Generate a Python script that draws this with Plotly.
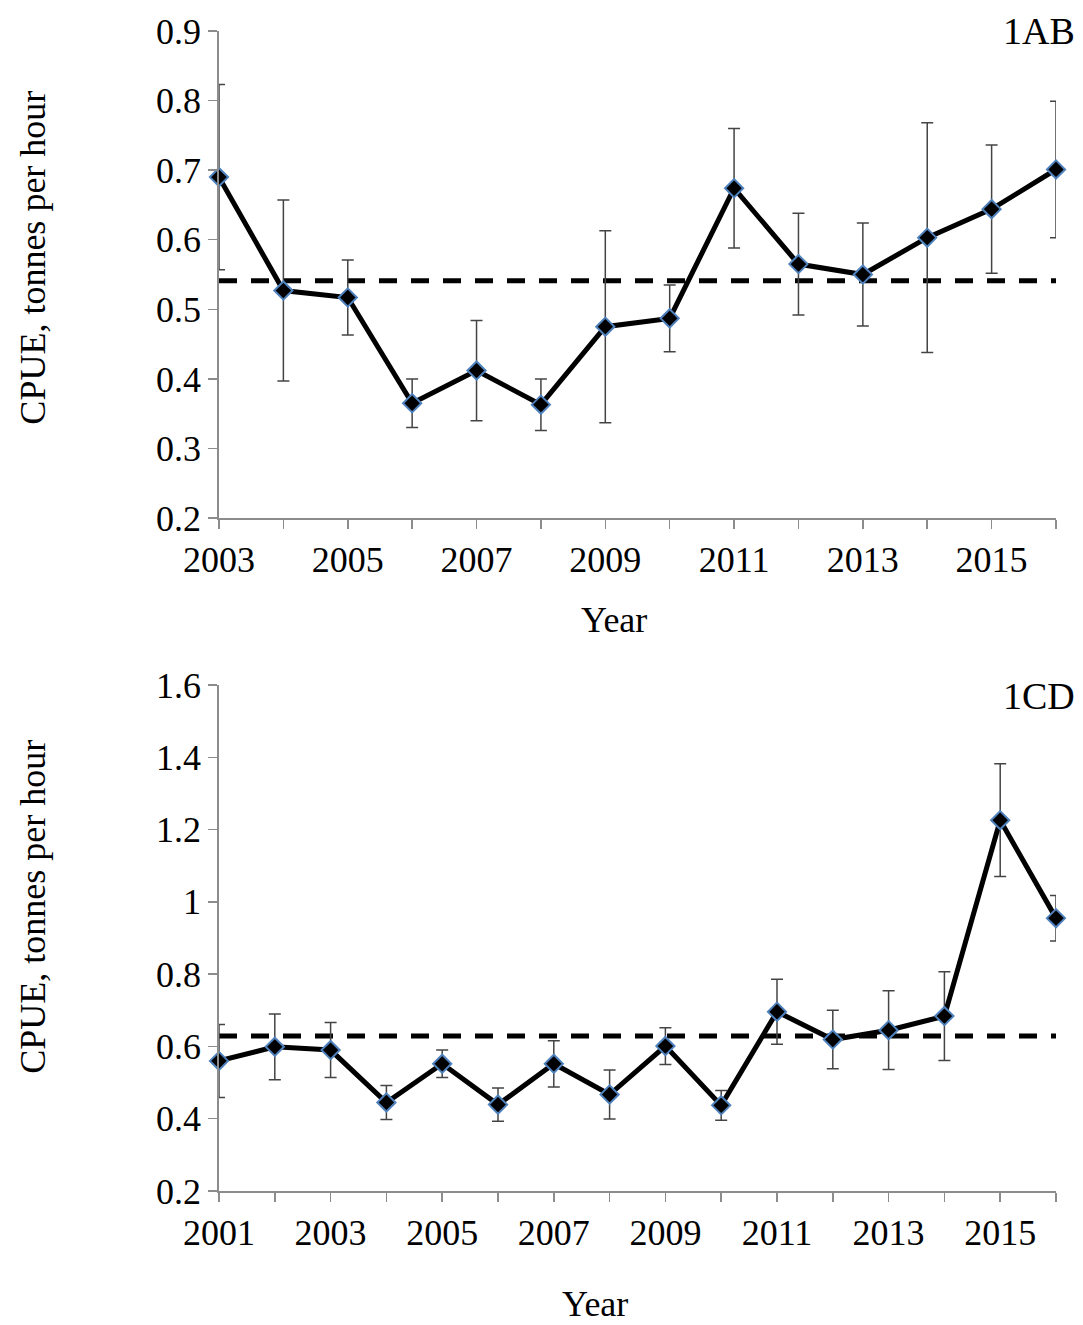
import plotly.graph_objects as go

# ---- Data: 1AB ----
years_1ab = list(range(2003, 2017))
cpue_1ab = [0.690, 0.527, 0.517, 0.365, 0.412, 0.363, 0.475, 0.487, 0.674, 0.565, 0.550, 0.603, 0.644, 0.701]
err_1ab = [0.133, 0.130, 0.054, 0.035, 0.072, 0.037, 0.138, 0.048, 0.086, 0.073, 0.074, 0.165, 0.092, 0.098]
mean_1ab = 0.541

# ---- Data: 1CD ----
years_1cd = list(range(2001, 2017))
cpue_1cd = [0.560, 0.599, 0.590, 0.445, 0.552, 0.439, 0.552, 0.467, 0.601, 0.437, 0.696, 0.619, 0.645, 0.684, 1.226, 0.955]
err_1cd = [0.101, 0.091, 0.076, 0.047, 0.038, 0.046, 0.064, 0.068, 0.051, 0.041, 0.090, 0.081, 0.109, 0.123, 0.156, 0.063]
mean_1cd = 0.629

FONT = "Liberation Serif, Times New Roman, serif"
W, H = 1083, 1325
ML, MR, MT, MB = 219, 27, 24, 134
PH = H - MT - MB
PW = W - ML - MR


def py(px):
    return (H - MB - px) / PH


def pxx(px):
    return (px - ML) / PW


fig = go.Figure()


def add_panel(years, vals, errs, mean, xa, ya):
    fig.add_trace(go.Scatter(
        x=[years[0], years[-1]], y=[mean, mean], mode="lines",
        line=dict(color="black", width=5, dash="18px,14px"),
        xaxis=xa, yaxis=ya, hoverinfo="skip", showlegend=False,
        cliponaxis=False,
    ))
    fig.add_trace(go.Scatter(
        x=years, y=vals, mode="lines+markers",
        line=dict(color="black", width=5),
        marker=dict(symbol="diamond", size=14, color="black",
                    line=dict(color="#4f81bd", width=2)),
        error_y=dict(type="data", array=errs, visible=True,
                     color="#444444", thickness=1.5, width=6),
        xaxis=xa, yaxis=ya, showlegend=False, cliponaxis=False,
    ))


add_panel(years_1ab, cpue_1ab, err_1ab, mean_1ab, "x", "y")
add_panel(years_1cd, cpue_1cd, err_1cd, mean_1cd, "x2", "y2")

axis_common = dict(
    showline=True, linecolor="#8c8c8c", linewidth=1.8,
    ticks="outside", ticklen=9, tickwidth=1.5, tickcolor="#8c8c8c",
    showgrid=False, zeroline=False,
    tickfont=dict(family=FONT, size=36, color="black"),
)


def xticks(years):
    return dict(tickmode="array", tickvals=years,
                ticktext=[str(y) if (y % 2 == 1) else "" for y in years])


fig.update_layout(
    width=W, height=H,
    margin=dict(l=ML, r=MR, t=MT, b=MB),
    paper_bgcolor="white", plot_bgcolor="white",
    font=dict(family=FONT, color="black"),
    xaxis=dict(domain=[0, 1], range=[years_1ab[0], years_1ab[-1]], anchor="y",
               **xticks(years_1ab), **axis_common),
    yaxis=dict(domain=[py(514), 1], range=[0.2, 0.9], dtick=0.1, tick0=0.2,
               anchor="x", **axis_common),
    xaxis2=dict(domain=[0, 1], range=[years_1cd[0], years_1cd[-1]], anchor="y2",
                **xticks(years_1cd), **axis_common),
    yaxis2=dict(domain=[0, py(682)], range=[0.2, 1.6], dtick=0.2, tick0=0.2,
                anchor="x2", **axis_common),
)

annots = [
    dict(text="Year", x=pxx(614), y=py(617)),
    dict(text="Year", x=pxx(595), y=py(1305)),
    dict(text="CPUE, tonnes per hour", x=pxx(33), y=py(252), textangle=-90),
    dict(text="CPUE, tonnes per hour", x=pxx(33), y=py(905), textangle=-90),
]
for a in annots:
    fig.add_annotation(xref="paper", yref="paper", showarrow=False,
                       xanchor="center", yanchor="middle",
                       font=dict(family=FONT, size=36, color="black"), **a)

fig.add_annotation(text="1AB", xref="paper", yref="paper", x=pxx(1077), y=py(24),
                   xanchor="right", yanchor="middle", showarrow=False,
                   font=dict(family=FONT, size=38, color="black"))
fig.add_annotation(text="1CD", xref="paper", yref="paper", x=pxx(1077), y=py(693),
                   xanchor="right", yanchor="middle", showarrow=False,
                   font=dict(family=FONT, size=38, color="black"))

fig.write_html(
    "out.html",
    config={"displayModeBar": False, "staticPlot": True},
    post_script=(
        "document.documentElement.style.margin='0';"
        "document.body.style.margin='0';document.body.style.padding='0';"
        "var d=document.getElementById('{plot_id}');"
        "d.style.position='absolute';d.style.top='0px';d.style.left='0px';"
    ),
)
